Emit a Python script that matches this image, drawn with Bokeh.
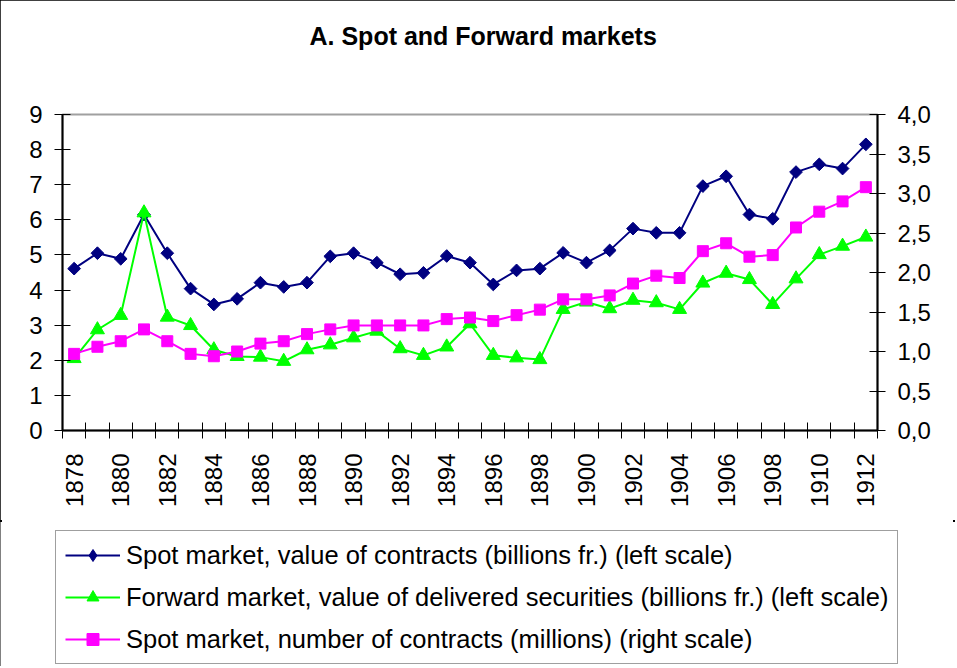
from math import pi
from bokeh.plotting import figure
from bokeh.layouts import column
from bokeh.models import (Range1d, LinearAxis, FixedTicker, CustomJSTickFormatter,
                          Legend, LegendItem, Title)
from bokeh.embed import file_html
from bokeh.resources import INLINE

# ---- data ----
years = list(range(1878, 1913))
spot_value = [4.61, 5.05, 4.89, 6.15, 5.05, 4.04, 3.59, 3.75, 4.21, 4.09, 4.21, 4.96,
              5.05, 4.78, 4.45, 4.49, 4.97, 4.78, 4.16, 4.56, 4.61, 5.06, 4.78, 5.13,
              5.75, 5.63, 5.63, 6.96, 7.24, 6.15, 6.03, 7.36, 7.58, 7.46, 8.15]
forward_value = [2.05, 2.87, 3.28, 6.20, 3.23, 2.99, 2.30, 2.11, 2.09, 1.97, 2.30, 2.44,
                 2.64, 2.83, 2.33, 2.14, 2.38, 3.04, 2.14, 2.07, 2.02, 3.45, 3.66, 3.47,
                 3.71, 3.64, 3.45, 4.20, 4.48, 4.30, 3.59, 4.32, 5.01, 5.25, 5.51]
spot_count = [0.97, 1.06, 1.13, 1.28, 1.13, 0.97, 0.94, 1.00, 1.10, 1.13, 1.22, 1.28,
              1.33, 1.33, 1.33, 1.33, 1.41, 1.43, 1.385, 1.46, 1.53, 1.66, 1.66, 1.71,
              1.86, 1.96, 1.93, 2.27, 2.37, 2.20, 2.22, 2.57, 2.77, 2.90, 3.08]
year_labels = list(range(1878, 1913, 2))
left_ticks = list(range(0, 10))
right_ticks = [0.0, 0.5, 1.0, 1.5, 2.0, 2.5, 3.0, 3.5, 4.0]

title_text = "A. Spot and Forward markets"
legend_labels = [
    "Spot market, value of contracts (billions fr.) (left scale)",
    "Forward market, value of delivered securities (billions fr.) (left scale)",
    "Spot market, number of contracts (millions) (right scale)",
]

FONT = "Liberation Sans"
NAVY = "#000080"
GREEN = "#00FF00"
MAGENTA = "#FF00FF"

W = 955
H_CHART = 520
H_LEGEND = 146

p = figure(width=W, height=H_CHART, output_backend="svg", toolbar_location=None,
           x_range=Range1d(years[0] - 0.5, years[-1] + 0.5), y_range=Range1d(0, 9),
           min_border_left=62, min_border_right=78, min_border_top=114,
           min_border_bottom=90, title=title_text)
p.frame_align = False
p.background_fill_color = "white"
p.border_fill_color = "white"
p.outline_line_color = "#a0a0a0"
p.outline_line_width = 2
p.xgrid.grid_line_color = None
p.ygrid.grid_line_color = None

p.title.align = "left"
p.title.offset = 247
p.title.standoff = 10
p.title.text_font = FONT
p.title.text_font_size = "25px"
p.title.text_font_style = "bold"
p.title.text_color = "black"
# empty spacer between the title and the plot area
p.add_layout(Title(text=" ", text_font_size="1px", standoff=57), "above")

# x axis 1: category-boundary ticks, no labels
xa = p.xaxis[0]
xa.ticker = FixedTicker(ticks=[y - 0.5 for y in years] + [years[-1] + 0.5])
xa.formatter = CustomJSTickFormatter(code="return '';")
xa.major_tick_in = 8
xa.major_tick_out = 8
xa.major_tick_line_color = "black"
xa.minor_tick_line_color = None
xa.axis_line_color = "black"
xa.axis_line_width = 2
xa.major_label_standoff = 0

# x axis 2: year labels every two years
xb = LinearAxis(ticker=FixedTicker(ticks=year_labels))
xb.axis_line_color = None
xb.major_tick_line_color = None
xb.minor_tick_line_color = None
xb.major_tick_in = 0
xb.major_tick_out = 0
xb.major_label_orientation = pi / 2
xb.major_label_standoff = 15
xb.major_label_text_font = FONT
xb.major_label_text_font_size = "24px"
xb.major_label_text_color = "black"
p.add_layout(xb, "below")

ya = p.yaxis[0]
ya.ticker = FixedTicker(ticks=left_ticks)
ya.major_tick_in = 8
ya.major_tick_out = 8
ya.major_tick_line_color = "black"
ya.minor_tick_line_color = None
ya.axis_line_color = "black"
ya.axis_line_width = 2
ya.major_label_standoff = 12
ya.major_label_text_font = FONT
ya.major_label_text_font_size = "24px"
ya.major_label_text_color = "black"

p.extra_y_ranges = {"right": Range1d(0, 4)}
ra = LinearAxis(y_range_name="right", ticker=FixedTicker(ticks=right_ticks),
                formatter=CustomJSTickFormatter(code="return tick.toFixed(1).replace('.', ',');"))
ra.major_tick_in = 8
ra.major_tick_out = 8
ra.major_tick_line_color = "black"
ra.minor_tick_line_color = None
ra.axis_line_color = "black"
ra.axis_line_width = 2
ra.major_label_standoff = 12
ra.major_label_text_font = FONT
ra.major_label_text_font_size = "24px"
ra.major_label_text_color = "black"
p.add_layout(ra, "right")

# series
p.line(years, spot_value, line_color=NAVY, line_width=2)
p.scatter(years, spot_value, marker="square", angle=pi / 4, size=9,
          fill_color=NAVY, line_color=NAVY)
p.line(years, forward_value, line_color=GREEN, line_width=2)
p.scatter(years, forward_value, marker="triangle", size=14,
          fill_color=GREEN, line_color=GREEN)
p.line(years, spot_count, y_range_name="right", line_color=MAGENTA, line_width=2)
p.scatter(years, spot_count, y_range_name="right", marker="square", size=11,
          fill_color=MAGENTA, line_color=MAGENTA)

# ---- legend panel (a second, axis-less figure below the chart) ----
q = figure(width=W, height=H_LEGEND, output_backend="svg", toolbar_location=None,
           x_range=Range1d(0, 1), y_range=Range1d(0, 1),
           x_axis_location=None, y_axis_location=None, min_border=0)
q.frame_align = False
q.styles = {"outline": "2px solid black", "outline-offset": "-2px",
            "clip-path": "inset(2px 0px 0px 0px)"}
q.background_fill_color = "white"
q.border_fill_color = "white"
q.outline_line_color = None
q.xgrid.grid_line_color = None
q.ygrid.grid_line_color = None
# the same series again (they fall outside this panel's ranges, only the legend shows)
ql1 = q.line(years, spot_value, line_color=NAVY, line_width=2)
qs1 = q.scatter(years, spot_value, marker="diamond", size=9, fill_color=NAVY, line_color=NAVY)
ql2 = q.line(years, forward_value, line_color=GREEN, line_width=2)
qs2 = q.scatter(years, forward_value, marker="triangle", size=14, fill_color=GREEN, line_color=GREEN)
ql3 = q.line(years, spot_count, line_color=MAGENTA, line_width=2)
qs3 = q.scatter(years, spot_count, marker="square", size=11, fill_color=MAGENTA, line_color=MAGENTA)

legend = Legend(items=[LegendItem(label=legend_labels[0], renderers=[ql1, qs1]),
                       LegendItem(label=legend_labels[1], renderers=[ql2, qs2]),
                       LegendItem(label=legend_labels[2], renderers=[ql3, qs3])],
                location=(55, 2), margin=0, padding=9, spacing=12,
                glyph_width=55, glyph_height=30, label_height=30, label_standoff=6,
                label_text_font=FONT, label_text_font_size="25.5px",
                label_text_color="black",
                border_line_color="#404040", border_line_width=1,
                background_fill_color="white", background_fill_alpha=1)
q.add_layout(legend)

layout = column(p, q, spacing=0,
                styles={"outline": "2px solid black", "outline-offset": "-2px"})

open("out.html", "w").write(file_html(layout, INLINE))
